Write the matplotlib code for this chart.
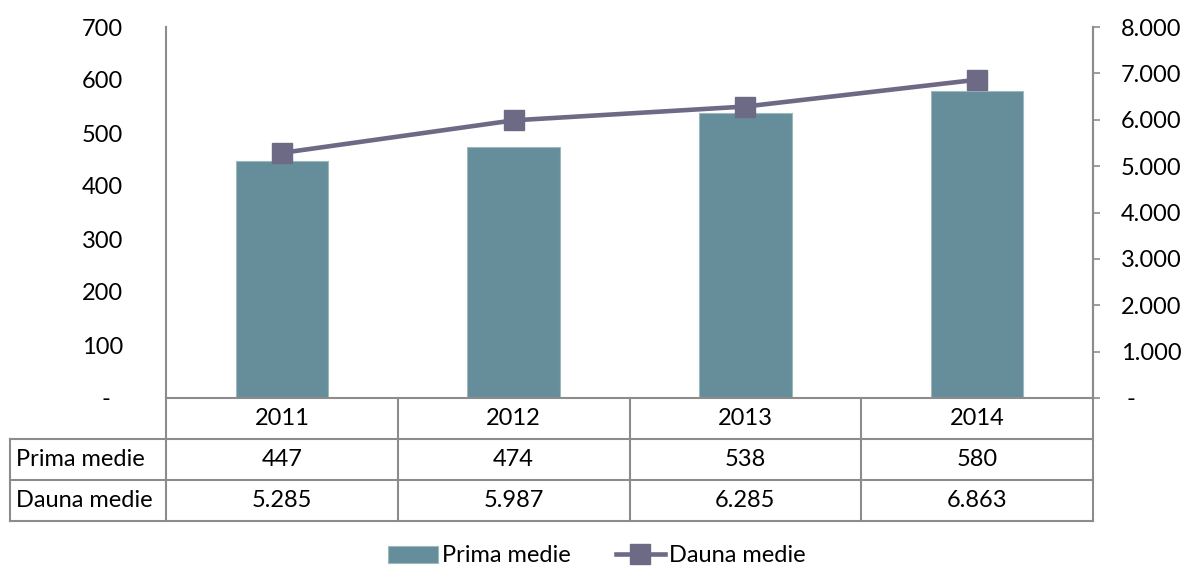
import matplotlib
matplotlib.use("Agg")
import matplotlib.pyplot as plt
from matplotlib.ticker import FuncFormatter, MultipleLocator
from matplotlib.transforms import blended_transform_factory

years = ["2011", "2012", "2013", "2014"]
prima_medie = [447, 474, 538, 580]
dauna_medie = [5285, 5987, 6285, 6863]
row_names = ["Prima medie", "Dauna medie"]

bar_color = "#658e9a"
line_color = "#6d6a85"
grid_gray = "#8c8c8c"
fs = 17

plt.rcParams["font.family"] = ["Lato", "DejaVu Sans"]
plt.rcParams["font.size"] = fs


def ro_thousands(v):
    if abs(v) < 1e-9:
        return " -"
    return f"{v:,.0f}".replace(",", ".")


fig = plt.figure(figsize=(11.87, 5.70), dpi=100)
ax = fig.add_axes([166 / 1187, 1 - 398 / 570, (1093 - 166) / 1187, (398 - 27) / 570])
ax2 = ax.twinx()

x = list(range(len(years)))
ax.bar(x, prima_medie, width=0.4, color=bar_color, edgecolor="#9fb8bf",
       linewidth=0.8, label="Prima medie", zorder=2)
ax2.plot(x, dauna_medie, color=line_color, linewidth=3.3, marker="s",
         markersize=14, label="Dauna medie", zorder=3)

ax.set_xlim(-0.5, len(years) - 0.5)
ax.set_ylim(0, 700)
ax.yaxis.set_major_locator(MultipleLocator(100))
ax.yaxis.set_major_formatter(FuncFormatter(lambda v, p: "-  " if v == 0 else f"{v:.0f}"))
ax.tick_params(axis="y", length=0, pad=31)
ax.set_xticks(x)
ax.tick_params(axis="x", length=0, labelbottom=False)

ax2.set_ylim(0, 8000)
ax2.yaxis.set_major_locator(MultipleLocator(1000))
ax2.yaxis.set_major_formatter(FuncFormatter(lambda v, p: ro_thousands(v)))
ax2.tick_params(axis="y", length=5, width=1.2, color=grid_gray, pad=15)

for a in (ax, ax2):
    a.spines["top"].set_visible(False)
    for s in ("left", "right", "bottom"):
        a.spines[s].set_color(grid_gray)
        a.spines[s].set_linewidth(1.5)
ax2.spines["left"].set_visible(False)
ax2.spines["bottom"].set_visible(False)

# data table under the plot, drawn on category boundaries
cell_text = [[str(v) for v in prima_medie], [ro_thousands(v) for v in dauna_medie]]
row_h = 41 / (398 - 27)
label_w = (166 - 10) / (1093 - 166)
n_rows = 1 + len(row_names)
tr = blended_transform_factory(ax.transData, ax.transAxes)
line_kw = dict(color=grid_gray, linewidth=1.5, clip_on=False)

for i in range(len(years) + 1):
    ax.plot([i - 0.5, i - 0.5], [0, -n_rows * row_h], transform=tr, **line_kw)
for r in range(1, n_rows + 1):
    ax.plot([-label_w, 1], [-r * row_h, -r * row_h], transform=ax.transAxes, **line_kw)
ax.plot([-label_w, -label_w], [-row_h, -n_rows * row_h], transform=ax.transAxes, **line_kw)

for i, yr in enumerate(years):
    ax.text(i, -0.5 * row_h, yr, transform=tr, ha="center", va="center")
for r, (name, vals) in enumerate(zip(row_names, cell_text), start=1):
    yc = -(r + 0.5) * row_h
    ax.text(-label_w + 0.006, yc, name, transform=ax.transAxes, ha="left", va="center")
    for i, v in enumerate(vals):
        ax.text(i, yc, v, transform=tr, ha="center", va="center")

handles = [ax.patches[0], ax2.lines[0]]
fig.legend(handles, ["Prima medie", "Dauna medie"], loc="center",
           bbox_to_anchor=(0.503, 1 - 556 / 570), ncol=2, frameon=False,
           handlelength=2.1, handletextpad=0.17, columnspacing=1.9, fontsize=fs)

fig.savefig("out.png", dpi=100)
